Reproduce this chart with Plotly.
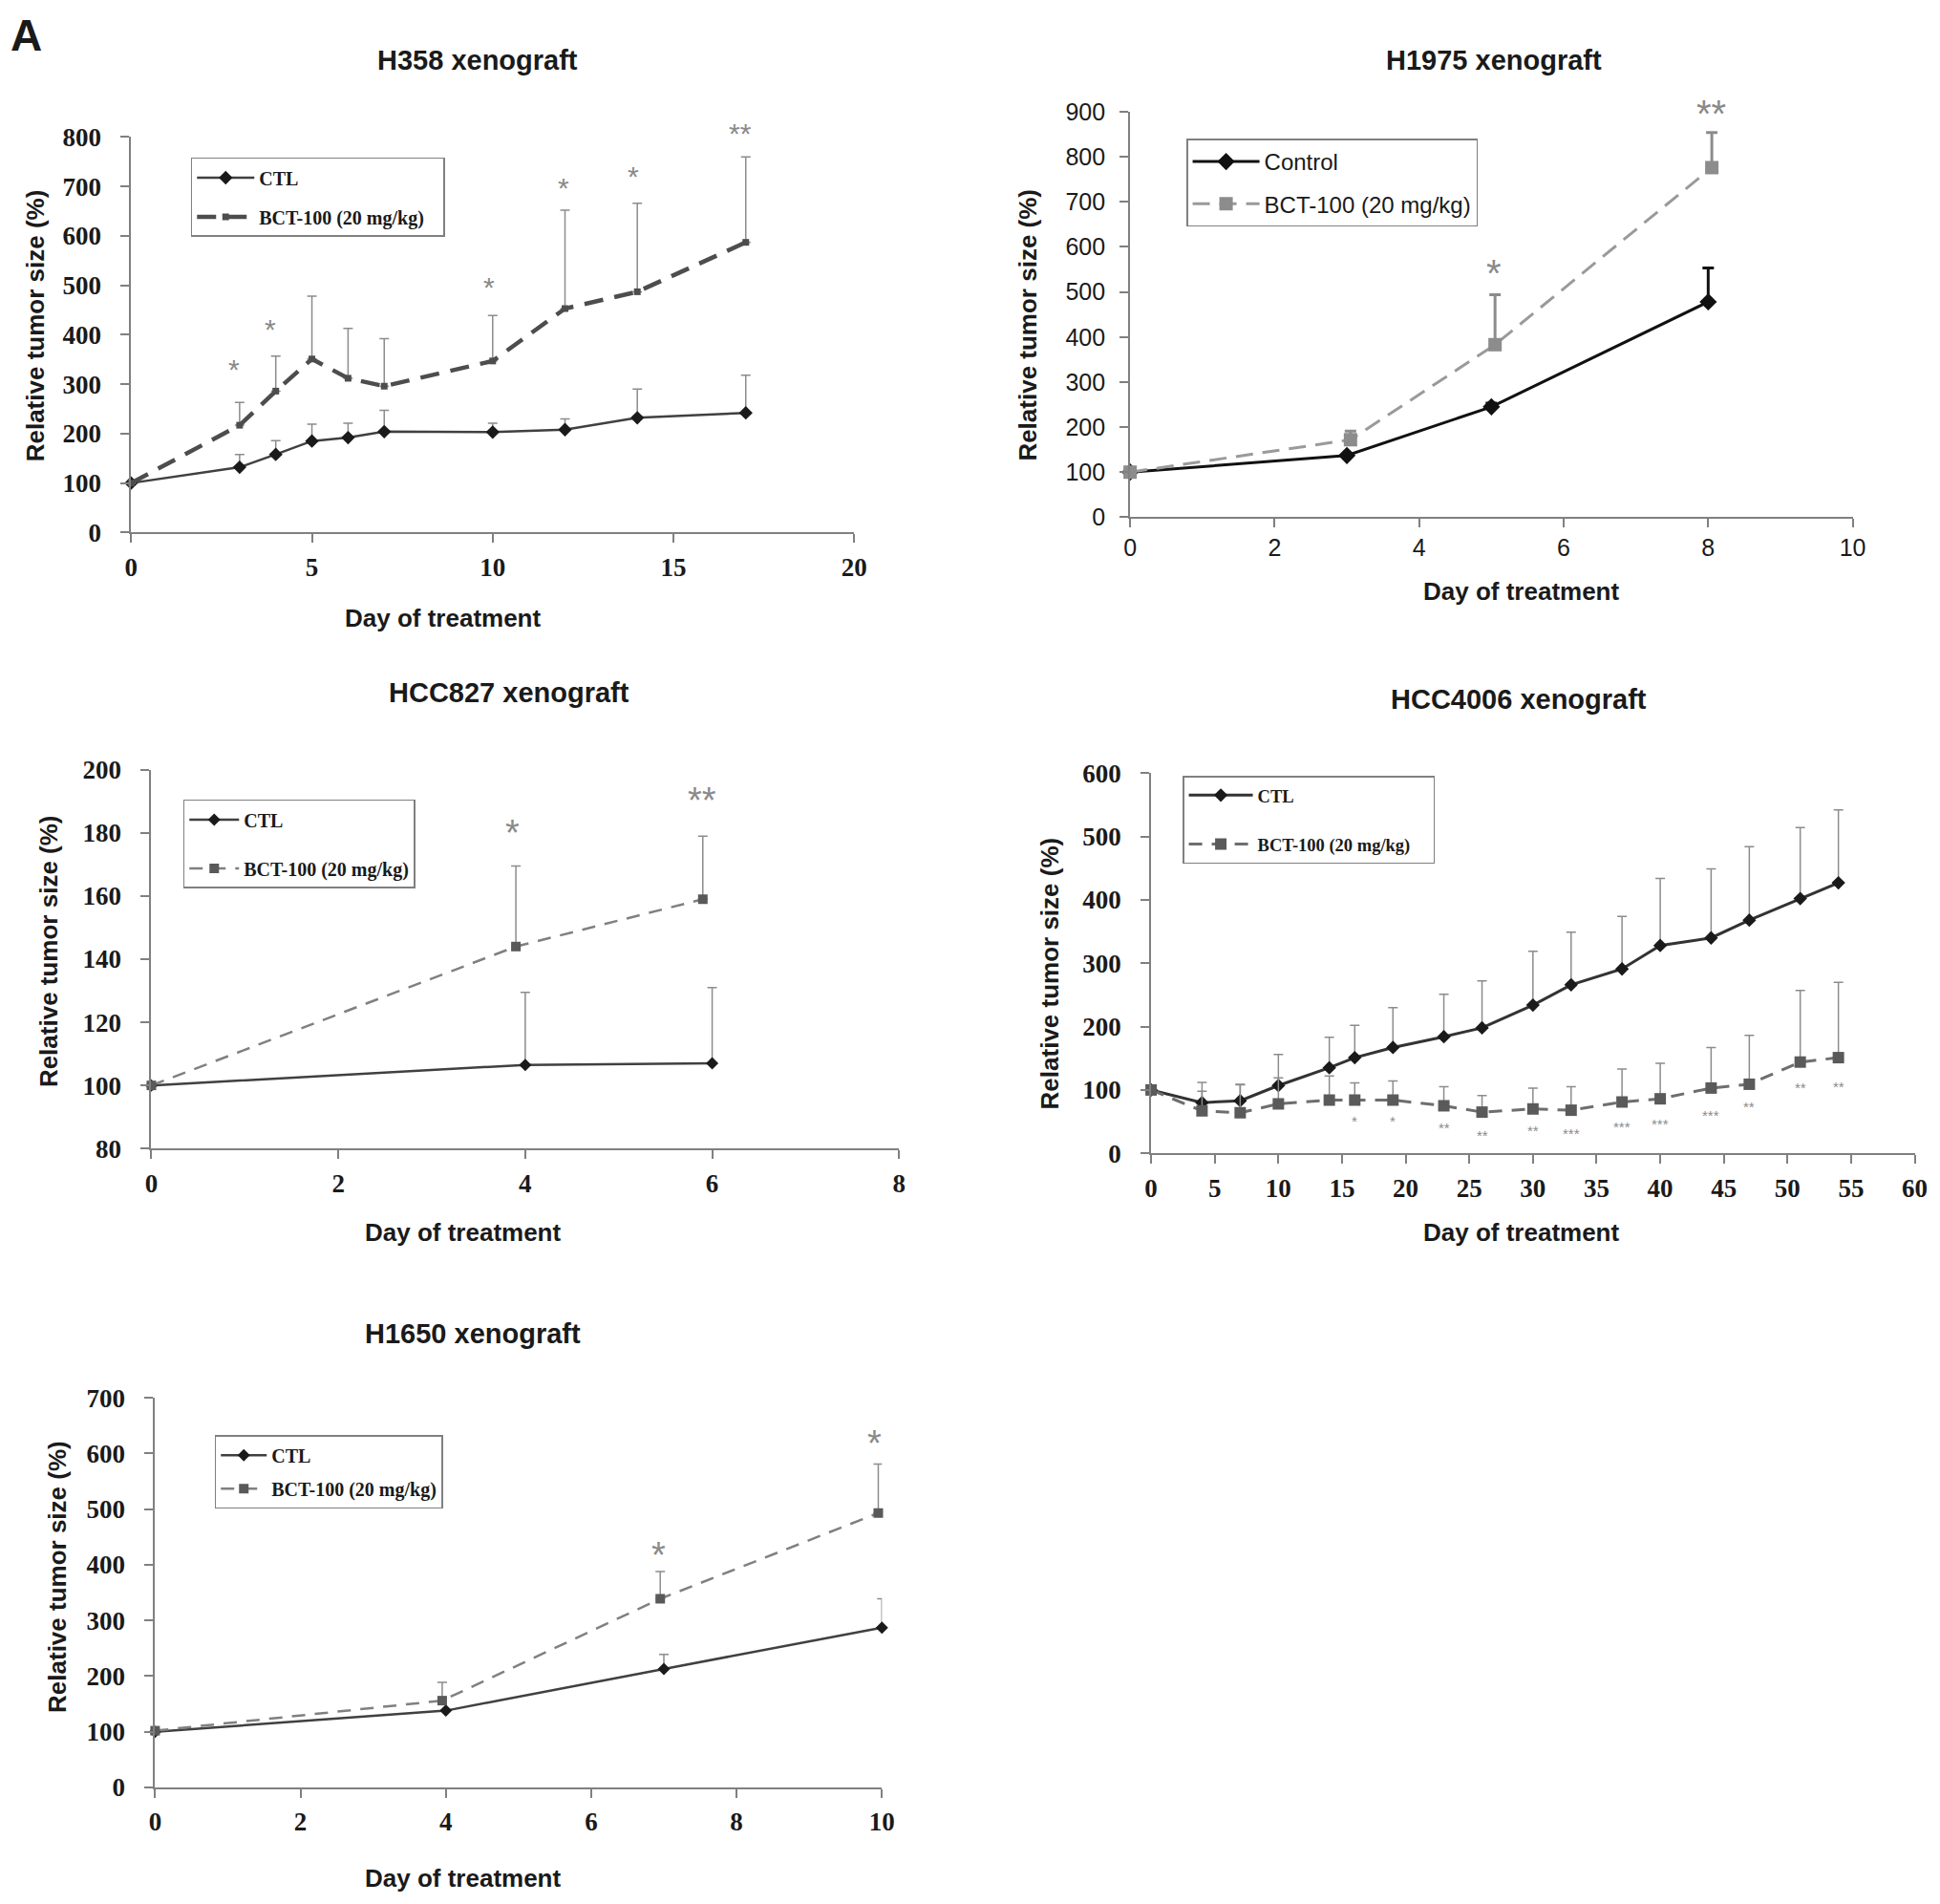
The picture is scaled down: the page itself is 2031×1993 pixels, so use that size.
import plotly.graph_objects as go

# ---- values ----
# H358 xenograft
h358_days = [0, 3, 4, 5, 6, 7, 10, 12, 14, 17]
h358_ctl = [100, 132, 158, 185, 192, 204, 203, 208, 232, 242]
h358_ctl_err = [0, 26, 28, 34, 29, 43, 18, 22, 58, 76]
h358_bct = [100, 217, 286, 351, 312, 296, 347, 453, 487, 587]
h358_bct_err = [0, 46, 71, 127, 101, 96, 92, 199, 179, 173]
h358_star_x = [2.85, 3.85, 9.9, 11.95, 13.9, 16.85]
h358_star_y = [338, 420, 505, 706, 728, 815]
h358_star_txt = ["*", "*", "*", "*", "*", "**"]

# H1975 xenograft
h1975_days = [0, 3, 5, 8]
h1975_ctl = [100, 137, 245, 478]
h1975_ctl_err = [0, 0, 8, 75]
h1975_bct_days = [0, 3.05, 5.05, 8.05]
h1975_bct = [100, 172, 383, 776]
h1975_bct_err = [0, 19, 111, 78]
h1975_star_x = [5.03, 8.04]
h1975_star_y = [553, 908]
h1975_star_txt = ["*", "**"]

# HCC827 xenograft
hcc827_days = [0, 4, 6]
hcc827_ctl = [100, 106.5, 107]
hcc827_ctl_err = [0, 23, 24]
hcc827_bct_days = [0, 3.9, 5.9]
hcc827_bct = [100, 144, 159]
hcc827_bct_err = [0, 25.5, 20]
hcc827_star_x = [3.86, 5.89]
hcc827_star_y = [181.6, 192]
hcc827_star_txt = ["*", "**"]

# HCC4006 xenograft
hcc4006_days = [0, 4, 7, 10, 14, 16, 19, 23, 26, 30, 33, 37, 40, 44, 47, 51, 54]
hcc4006_ctl = [100, 80, 83, 107, 135, 151, 167, 184, 198, 234, 266, 291, 328, 340, 368, 402, 427]
hcc4006_ctl_err = [0, 32, 26, 49, 48, 51, 63, 67, 74, 85, 83, 83, 106, 109, 116, 112, 115]
hcc4006_bct = [100, 67, 64, 78, 84, 84, 84, 75, 65, 70, 68, 81, 86, 103, 109, 144, 151]
hcc4006_bct_err = [0, 31, 44, 41, 38, 27, 30, 30, 26, 33, 37, 52, 56, 64, 77, 113, 119]
hcc4006_star_x = [16, 19, 23, 26, 30, 33, 37, 40, 44, 47, 51, 54]
hcc4006_star_y = [54, 54, 43, 31, 39, 34, 45, 50, 63, 77, 107, 109]
hcc4006_star_txt = ["*", "*", "**", "**", "**", "***", "***", "***", "***", "**", "**", "**"]

# H1650 xenograft
h1650_days = [0, 4, 7, 10]
h1650_ctl = [100, 138, 213, 287]
h1650_ctl_err = [0, 0, 26, 52]
h1650_bct_days = [0, 3.95, 6.95, 9.95]
h1650_bct = [102, 156, 339, 493]
h1650_bct_err = [0, 33, 49, 88]
h1650_star_x = [6.93, 9.9]
h1650_star_y = [427, 627]
h1650_star_txt = ["*", "*"]

# page geometry: body keeps its 8px margin; the shot is slightly scaled/offset,
# so target pixel positions are mapped back through that measured correction
PAD = 8
FW, FH = 2030, 1992
TX0, TXS = 5.2, 0.9903
TY0, TYS = 14.6, 0.9852
SERIF = "Liberation Serif, Times New Roman, serif"
SANS = "Liberation Sans, Arial, sans-serif"


def fx(p):
    return ((p - TX0) / TXS - PAD) / FW


def fy(p):
    return 1 - ((p - TY0) / TYS - PAD) / FH


fig = go.Figure()


def label(x, y, text, size, angle=0, weight="bold"):
    fig.add_annotation(x=fx(x), y=fy(y), xref="paper", yref="paper", text=text,
                       showarrow=False, xanchor="center", yanchor="middle",
                       textangle=angle,
                       font=dict(family=SANS, size=size, color="#1a1a1a", weight=weight))


def add_panel(i, title, days, ctl, ctl_err, bct_days, bct, bct_err,
              star_x, star_y, star_txt, s):
    ax = "" if i == 1 else str(i)
    leg = "legend" if i == 1 else "legend" + str(i)

    fig.add_trace(go.Scatter(
        x=days, y=ctl, name=s["ctl_name"], xaxis="x" + ax, yaxis="y" + ax,
        mode="lines+markers", legend=leg, legendgroup=f"c{i}", cliponaxis=False,
        line=dict(color=s["ctl_line"], width=s["ctl_w"]),
        marker=dict(symbol="diamond", size=s["ctl_ms"], color=s["ctl_mc"]),
        error_y=dict(type="data", array=ctl_err, arrayminus=[0] * len(ctl),
                     symmetric=False, color=s["ctl_ec"],
                     thickness=s["et"], width=s["ew"]),
    ))
    fig.add_trace(go.Scatter(
        x=bct_days, y=bct, name="BCT-100 (20 mg/kg)" + s["pad_txt"],
        xaxis="x" + ax, yaxis="y" + ax,
        mode="lines+markers", legend=leg, legendgroup=f"b{i}", cliponaxis=False,
        line=dict(color=s["bct_line"], width=s["bct_w"], dash=s["dash"]),
        marker=dict(symbol="square", size=s["bct_ms"], color=s["bct_mc"]),
        error_y=dict(type="data", array=bct_err, arrayminus=[0] * len(bct),
                     symmetric=False, color=s["bct_ec"],
                     thickness=s["et"], width=s["ew"]),
    ))

    # significance marks: text sits at the (data-space) tail of an invisible arrow
    # whose head stays inside the axis range, so marks above the axis top still show
    for sx, sy, st in zip(star_x, star_y, star_txt):
        fig.add_annotation(x=sx, y=s["yr"][0], xref="x" + ax, yref="y" + ax,
                           ax=sx, ay=sy, axref="x" + ax, ayref="y" + ax,
                           text=st, showarrow=True, arrowcolor="rgba(0,0,0,0)",
                           arrowwidth=0.1, arrowhead=0, standoff=0,
                           xanchor="center", yanchor="middle",
                           yshift=-0.14 * s["ssize"],
                           font=dict(family=SANS, size=s["ssize"], color="#8a8a8a"))

    x0, x1, y0, y1 = s["box"]
    tickfont = dict(family=s["tfam"], size=s["tsize"], color="#1a1a1a",
                    weight=s["tweight"])
    axis_common = dict(showline=True, linecolor="#808080", linewidth=2,
                       ticks="outside", ticklen=9, tickwidth=2, tickcolor="#808080",
                       showgrid=False, zeroline=False, tickfont=tickfont)
    fig.update_layout({
        "xaxis" + ax: dict(domain=[fx(x0), fx(x1)], range=s["xr"], anchor="y" + ax,
                           tick0=s["xr"][0], dtick=s["xd"], ticklabelstandoff=s["xso"],
                           **axis_common),
        "yaxis" + ax: dict(domain=[fy(y1), fy(y0)], range=s["yr"], anchor="x" + ax,
                           tick0=s["yr"][0], dtick=s["yd"], ticklabelstandoff=s["yso"],
                           **axis_common),
        leg: dict(x=fx(s["leg"][0]), y=fy(s["leg"][1]), xanchor="left", yanchor="top",
                  bgcolor="white", bordercolor="#808080", borderwidth=1.5,
                  font=dict(family=s["lfam"], size=s["lsize"], color="#1a1a1a",
                            weight=s["lweight"]),
                  tracegroupgap=s["lgap"], itemwidth=s["iw"], traceorder="grouped"),
    })

    label(*s["title_pos"], title, 29)
    label(*s["xt_pos"], "Day of treatment", 26)
    label(*s["yt_pos"], "Relative tumor size (%)", 26, angle=-90)


serif_style = dict(tfam=SERIF, tsize=27, tweight="bold", lfam=SERIF, lweight="bold",
                   ctl_name="CTL", et=1.5, ew=5, ctl_ec="#8c8c8c", bct_ec="#8c8c8c",
                   xso=2, yso=15, pad_txt="")

add_panel(1, "H358 xenograft", h358_days, h358_ctl, h358_ctl_err,
          h358_days, h358_bct, h358_bct_err, h358_star_x, h358_star_y, h358_star_txt,
          dict(serif_style, box=(135.5, 893, 143, 557), xr=[0, 20], xd=5, yr=[0, 800], yd=100,
               ctl_line="#404040", ctl_w=2.5, ctl_ms=11, ctl_mc="#1a1a1a",
               bct_line="#4d4d4d", bct_w=4.5, dash="20px,12px", bct_ms=7, bct_mc="#4d4d4d",
               leg=(198, 164.5), lsize=20, lgap=12, iw=60, pad_txt="&nbsp;&nbsp;&nbsp;",
               ssize=30, title_pos=(498, 62), xt_pos=(462, 647), yt_pos=(36, 340)))

add_panel(2, "H1975 xenograft", h1975_days, h1975_ctl, h1975_ctl_err,
          h1975_bct_days, h1975_bct, h1975_bct_err, h1975_star_x, h1975_star_y, h1975_star_txt,
          dict(tfam=SANS, tsize=25, tweight="normal", lfam=SANS, lweight="normal",
               ctl_name="Control", et=3, ew=6, ctl_ec="#111111", bct_ec="#8c8c8c",
               xso=0, yso=10, pad_txt="",
               box=(1182, 1939, 116.5, 541), xr=[0, 10], xd=2, yr=[0, 900], yd=100,
               ctl_line="#111111", ctl_w=3, ctl_ms=14, ctl_mc="#111111",
               bct_line="#9a9a9a", bct_w=3, dash="18px,10px", bct_ms=14, bct_mc="#8c8c8c",
               leg=(1241, 145), lsize=24, lgap=10, iw=70, ssize=40,
               title_pos=(1563, 62), xt_pos=(1592, 619), yt_pos=(1075, 340)))

add_panel(3, "HCC827 xenograft", hcc827_days, hcc827_ctl, hcc827_ctl_err,
          hcc827_bct_days, hcc827_bct, hcc827_bct_err, hcc827_star_x, hcc827_star_y,
          hcc827_star_txt,
          dict(serif_style, box=(156.7, 940, 805.5, 1202), xr=[0, 8], xd=2, yr=[80, 200], yd=20,
               ctl_line="#404040", ctl_w=2.5, ctl_ms=10, ctl_mc="#1a1a1a",
               bct_line="#808080", bct_w=2.5, dash="14px,10px", bct_ms=10, bct_mc="#595959",
               leg=(190, 836.6), lsize=20, lgap=22, iw=52, ssize=38,
               title_pos=(531, 725), xt_pos=(483, 1290), yt_pos=(49, 995)))

add_panel(4, "HCC4006 xenograft", hcc4006_days, hcc4006_ctl, hcc4006_ctl_err,
          hcc4006_days, hcc4006_bct, hcc4006_bct_err, hcc4006_star_x, hcc4006_star_y,
          hcc4006_star_txt,
          dict(serif_style, box=(1204, 2004, 809, 1207), xr=[0, 60], xd=5, yr=[0, 600], yd=100,
               ctl_line="#333333", ctl_w=3, ctl_ms=11, ctl_mc="#1a1a1a",
               bct_line="#6e6e6e", bct_w=3, dash="14px,10px", bct_ms=12, bct_mc="#5a5a5a",
               leg=(1237, 812), lsize=18.5, lgap=24, iw=67,
               pad_txt="&nbsp;&nbsp;&nbsp;&nbsp;", ssize=15,
               title_pos=(1589, 732), xt_pos=(1592, 1290), yt_pos=(1098, 1019)))

add_panel(5, "H1650 xenograft", h1650_days, h1650_ctl, h1650_ctl_err,
          h1650_bct_days, h1650_bct, h1650_bct_err, h1650_star_x, h1650_star_y,
          h1650_star_txt,
          dict(serif_style, box=(160.6, 922, 1463, 1871), xr=[0, 10], xd=2, yr=[0, 700], yd=100,
               ctl_line="#404040", ctl_w=2.5, ctl_ms=10, ctl_mc="#1a1a1a",
               bct_line="#808080", bct_w=2.5, dash="14px,10px", bct_ms=10, bct_mc="#595959",
               leg=(223, 1502), lsize=20, lgap=6, iw=48, ssize=38,
               title_pos=(493, 1396), xt_pos=(483, 1966), yt_pos=(58, 1650)))

# panel letter
label(26, 36, "A", 46)

fig.update_layout(width=FW, height=FH, autosize=False,
                  margin=dict(l=0, r=0, t=0, b=0),
                  paper_bgcolor="white", plot_bgcolor="white",
                  showlegend=True)

fig.write_html("out.html")
